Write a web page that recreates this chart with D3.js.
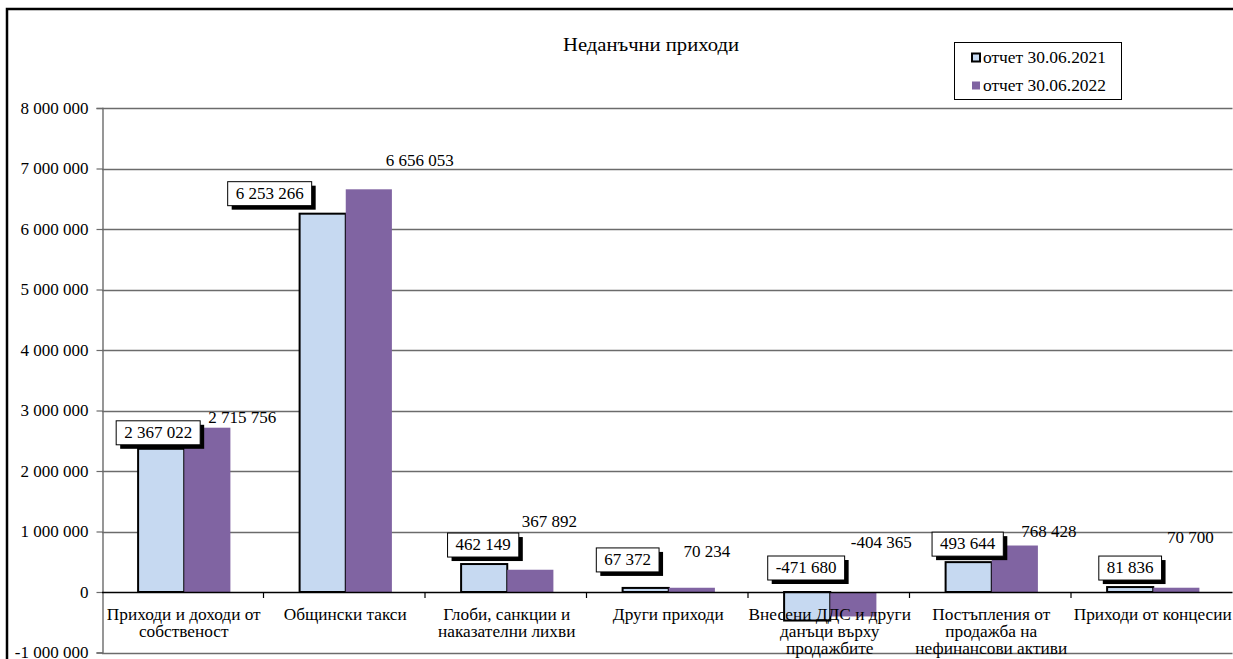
<!DOCTYPE html>
<html>
<head>
<meta charset="utf-8">
<script src="https://cdn.jsdelivr.net/npm/d3@7/dist/d3.min.js"></script>
<style>
  html, body { margin: 0; padding: 0; background: #fff; }
  svg { display: block; }
</style>
</head>
<body>
<svg id="chart" width="1233" height="659"></svg>
<script>
// ---------- data ----------
const title = "Неданъчни приходи";
const categories = [
  "Приходи и доходи от\nсобственост",
  "Общински такси",
  "Глоби, санкции и\nнаказателни лихви",
  "Други приходи",
  "Внесени ДДС и други\nданъци върху\nпродажбите",
  "Постъпления от\nпродажба на\nнефинансови активи",
  "Приходи от концесии"
];
const seriesNames = ["отчет 30.06.2021", "отчет 30.06.2022"];
const values2021 = [2367022, 6253266, 462149, 67372, -471680, 493644, 81836];
const values2022 = [2715756, 6656053, 367892, 70234, -404365, 768428, 70700];
const yTicks = [-1000000, 0, 1000000, 2000000, 3000000, 4000000, 5000000, 6000000, 7000000, 8000000];

// label nudges (px, relative to bar top/center) – layout, not data
const nudge2021 = [[-3, 4], [-53, 8], [-1, 7], [-18, 16], [-1, 12], [-1, 6], [0, 7]];
const nudge2022 = [[35, 5], [51, 23], [19, 43], [15, 31], [28, 44], [34, 9], [14, 45]];

// ---------- setup ----------
const FONT = '"Liberation Serif", Tinos, "Times New Roman", "DejaVu Serif", serif';
const svg = d3.select("#chart").style("font-family", FONT);
const plot = { left: 102, right: 1232.5, top: 108, bottom: 652.5 };

const fmt = d3.formatLocale({ decimal: ",", thousands: " ", grouping: [3], currency: ["", ""], minus: "-" }).format(",d");

const x = d3.scaleBand().domain(d3.range(categories.length)).range([plot.left, plot.right]).paddingInner(0).paddingOuter(0);
const bw = x.bandwidth() / 3.5;
const xs = d3.scaleBand().domain([0, 1]).range([0.75 * bw + 1.5, 2.75 * bw + 1.5]);
const y = d3.scaleLinear().domain([-1000000, 8000000]).range([plot.bottom, plot.top]);

const colors = ["#C6D9F1", "#8064A2"];

function txt(sel, size) {
  return sel.style("font-family", FONT).style("font-size", size + "px").attr("fill", "#000");
}

// outer border
svg.append("rect").attr("x", 7).attr("y", 9).attr("width", 1300).attr("height", 700)
  .attr("fill", "none").attr("stroke", "#000").attr("stroke-width", 2.5);

// title
txt(svg.append("text").attr("x", 651).attr("y", 51).attr("text-anchor", "middle"), 18)
  .attr("textLength", 176).attr("lengthAdjust", "spacingAndGlyphs").text(title);

// gridlines
svg.append("g").selectAll("line").data(yTicks.filter(d => d !== 0)).join("line")
  .attr("x1", plot.left).attr("x2", plot.right)
  .attr("y1", d => Math.round(y(d)) + 0.5).attr("y2", d => Math.round(y(d)) + 0.5)
  .attr("stroke", "#6b6b6b").attr("stroke-width", 1.4);

// y axis
const yAxis = d3.axisLeft(y).tickValues(yTicks).tickSize(6).tickPadding(8).tickFormat(d => fmt(d));
const gy = svg.append("g").attr("transform", `translate(${plot.left + 0.5},0)`).call(yAxis);
gy.attr("font-family", null).attr("font-size", null);
gy.select(".domain").attr("stroke", "#6b6b6b").attr("stroke-width", 1.4);
gy.selectAll(".tick line").attr("stroke", "#6b6b6b").attr("stroke-width", 1.2);
txt(gy.selectAll(".tick text"), 17);

// bars
const bars = svg.append("g");
const series = [values2021, values2022];
series.forEach((vals, si) => {
  bars.selectAll(`rect.s${si}`).data(vals).join("rect")
    .attr("class", `s${si}`)
    .attr("x", (d, i) => x(i) + xs(si))
    .attr("width", xs.bandwidth())
    .attr("y", d => y(Math.max(0, d)))
    .attr("height", d => Math.abs(y(d) - y(0)))
    .attr("fill", colors[si])
    .attr("stroke", si === 0 ? "#000" : "none")
    .attr("stroke-width", si === 0 ? 2 : 0);
});

// zero line + category ticks
svg.append("line").attr("x1", plot.left).attr("x2", plot.right)
  .attr("y1", Math.round(y(0)) + 0.5).attr("y2", Math.round(y(0)) + 0.5)
  .attr("stroke", "#000").attr("stroke-width", 1.4);
svg.append("g").selectAll("line").data(d3.range(1, categories.length)).join("line")
  .attr("x1", i => x(i)).attr("x2", i => x(i))
  .attr("y1", y(0)).attr("y2", y(0) + 6)
  .attr("stroke", "#000").attr("stroke-width", 1.2);

// category labels
const catG = svg.append("g");
categories.forEach((c, i) => {
  const cx = x(i) + x.bandwidth() / 2 + 1;
  const t = txt(catG.append("text").attr("x", cx).attr("y", y(0) + 28)
    .attr("text-anchor", "middle"), 17.3);
  c.split("\n").forEach((line, li) => {
    t.append("tspan").attr("x", cx).attr("dy", li === 0 ? 0 : 17).text(line);
  });
});

// labels series 2022 (plain)
values2022.forEach((v, i) => {
  const cx = x(i) + xs(1) + xs.bandwidth() / 2 + nudge2022[i][0];
  const ty = y(Math.max(0, v)) - nudge2022[i][1];
  txt(svg.append("text").attr("x", cx).attr("y", ty).attr("text-anchor", "middle"), 17).text(fmt(v));
});

// labels series 2021 (boxed with shadow)
values2021.forEach((v, i) => {
  const cx = x(i) + xs(0) + xs.bandwidth() / 2 + nudge2021[i][0];
  const bottom = y(Math.max(0, v)) - nudge2021[i][1];
  const g = svg.append("g");
  const t = txt(g.append("text").attr("x", cx).attr("y", bottom - 7).attr("text-anchor", "middle"), 17).text(fmt(v));
  const tw = t.node().getComputedTextLength();
  const bwid = tw + 16, bh = 24;
  g.insert("rect", "text").attr("x", cx - bwid / 2 + 4).attr("y", bottom - bh + 4)
    .attr("width", bwid).attr("height", bh).attr("fill", "#000");
  g.insert("rect", "text").attr("x", cx - bwid / 2).attr("y", bottom - bh)
    .attr("width", bwid).attr("height", bh).attr("fill", "#fff").attr("stroke", "#000").attr("stroke-width", 1);
});

// legend
const lg = svg.append("g");
lg.append("rect").attr("x", 954.5).attr("y", 42.5).attr("width", 167).attr("height", 57)
  .attr("fill", "#fff").attr("stroke", "#000").attr("stroke-width", 1);
seriesNames.forEach((name, si) => {
  const yy = 62.5 + si * 28;
  lg.append("rect").attr("x", 972).attr("y", yy - 9).attr("width", 8).attr("height", 8)
    .attr("fill", colors[si]).attr("stroke", si === 0 ? "#000" : "none").attr("stroke-width", 2);
  txt(lg.append("text").attr("x", 983).attr("y", yy), 16.5)
    .attr("textLength", 123).attr("lengthAdjust", "spacingAndGlyphs").text(name);
});
</script>
</body>
</html>
